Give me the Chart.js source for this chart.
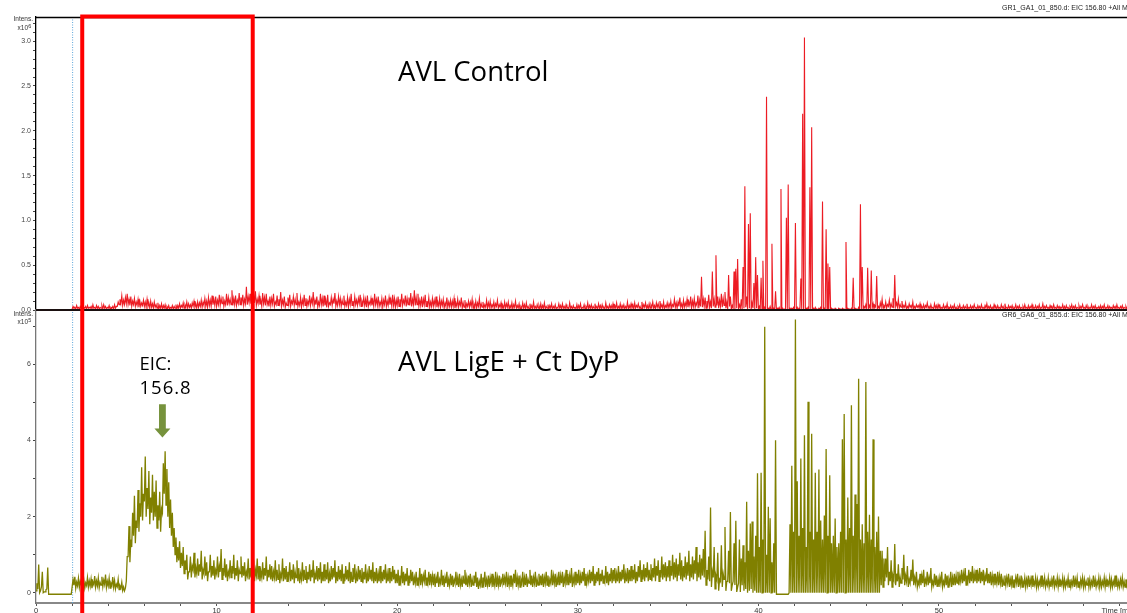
<!DOCTYPE html>
<html><head><meta charset="utf-8">
<script src="https://cdn.jsdelivr.net/npm/chart.js@4.4.0/dist/chart.umd.min.js"></script>
<style>html,body{margin:0;padding:0;background:#fff;overflow:hidden}canvas{display:block}</style>
</head><body>
<canvas id="c" width="1127" height="613"></canvas>
<script>
// sampling grid of the chromatograms (minutes); each 0.1-min bin holds a low and a high reading
const timeStart = 0;
const timeStep = 0.1;

// AVL Control, EIC 156.80 — bin maxima, intensity in units of 10^6
const controlMax = [
0,0,0,0,0,0,0,0,0,0,
0,0,0,0,0,0,0,0,0,0,
.04,.03,.05,.03,.04,.06,.03,.04,.05,.03,
.04,.06,.03,.05,.04,.03,.05,.06,.04,.03,
.05,.03,.04,.06,.04,.09,.12,.16,.11,.14,
.18,.12,.15,.10,.13,.09,.12,.10,.08,.11,
.09,.12,.08,.10,.07,.09,.06,.08,.05,.07,
.05,.06,.04,.05,.03,.05,.04,.06,.05,.07,
.05,.08,.06,.09,.07,.06,.08,.10,.07,.09,
.08,.11,.09,.13,.10,.14,.11,.16,.12,.15,
.11,.17,.13,.15,.10,.18,.14,.12,.22,.13,
.16,.11,.19,.14,.17,.12,.26,.15,.18,.13,
.17,.21,.12,.16,.11,.19,.14,.18,.10,.15,
.13,.18,.09,.16,.12,.20,.11,.15,.08,.14,
.17,.10,.15,.12,.19,.09,.14,.11,.17,.13,
.10,.16,.12,.20,.11,.15,.09,.18,.13,.16,
.11,.17,.08,.14,.12,.19,.10,.15,.13,.11,
.16,.09,.14,.12,.18,.10,.15,.11,.13,.17,
.10,.14,.12,.16,.09,.13,.11,.18,.12,.15,
.09,.13,.11,.16,.10,.14,.12,.17,.13,.11,
.15,.12,.18,.11,.16,.13,.14,.19,.12,.22,
.14,.18,.11,.15,.12,.17,.10,.14,.09,.13,
.11,.15,.09,.13,.10,.12,.08,.14,.09,.11,
.10,.13,.08,.12,.09,.14,.08,.11,.07,.10,
.09,.12,.07,.10,.08,.13,.07,.09,.06,.11,
.08,.10,.06,.09,.07,.11,.06,.08,.05,.09,
.07,.09,.05,.08,.06,.10,.05,.07,.04,.08,
.06,.08,.04,.07,.05,.09,.04,.06,.05,.07,
.05,.08,.04,.06,.05,.07,.04,.06,.03,.07,
.05,.07,.04,.06,.03,.08,.04,.05,.03,.06,
.05,.07,.03,.06,.04,.08,.05,.06,.04,.07,
.04,.07,.05,.06,.03,.08,.04,.06,.05,.07,
.05,.08,.04,.07,.05,.06,.04,.09,.05,.07,
.06,.08,.05,.07,.04,.09,.06,.08,.05,.07,
.06,.09,.05,.08,.07,.10,.06,.09,.05,.08,
.07,.10,.06,.12,.08,.09,.14,.07,.11,.08,
.12,.09,.15,.10,.13,.08,.16,.11,.37,.12,
.14,.10,.17,.09,.43,.12,.61,.15,.11,.18,
.13,.20,.09,.39,.15,.05,.43,.46,.57,.06,
.12,.48,1.38,.15,.96,1.08,.08,.30,.59,.39,
.04,.36,.55,.03,2.38,.02,.04,.74,.02,.21,
.02,.03,1.35,.02,.01,1.03,1.40,.02,.02,.03,
.97,.03,.02,.35,2.19,3.04,.02,.03,1.37,2.04,
.02,.03,.01,.02,.03,1.21,.02,.90,.52,.48,
.02,.01,.02,.01,.02,.01,.02,.01,.76,.02,
.01,.02,.36,.02,.01,.03,1.18,.48,.04,.06,
.47,.05,.44,.07,.05,.38,.04,.08,.12,.05,
.09,.06,.11,.07,.13,.39,.08,.12,.06,.10,
.05,.08,.04,.07,.05,.09,.04,.06,.05,.07,
.04,.06,.05,.08,.04,.06,.03,.07,.05,.06,
.05,.03,.06,.04,.07,.03,.05,.04,.06,.03,
.04,.06,.03,.05,.04,.07,.03,.05,.04,.06,
.03,.05,.04,.06,.03,.05,.07,.04,.05,.03,
.06,.04,.05,.03,.06,.04,.07,.03,.05,.04,
.05,.03,.06,.04,.05,.03,.04,.06,.03,.05,
.04,.06,.03,.05,.04,.06,.03,.07,.04,.05,
.03,.05,.04,.06,.03,.05,.04,.03,.06,.04,
.05,.03,.04,.06,.04,.05,.03,.05,.04,.06,
.03,.05,.04,.03,.06,.04,.05,.03,.04,.05,
.04,.06,.03,.05,.04,.03,.05,.04,.06,.03,
.04,.05,.03,.04,.05
];

// AVL Control — bin minima (10^6)
const controlMin = [
0,0,0,0,0,0,0,0,0,0,
0,0,0,0,0,0,0,0,0,0,
.01,.02,.01,.02,.01,.02,.01,.02,.01,.02,
.02,.01,.02,.01,.02,.01,.02,.01,.02,.01,
.02,.01,.02,.01,.02,.04,.06,.07,.05,.06,
.07,.06,.05,.04,.06,.04,.05,.03,.04,.05,
.04,.03,.04,.02,.03,.02,.03,.02,.01,.02,
.01,.02,.01,.02,.01,.02,.01,.02,.01,.02,
.02,.03,.02,.03,.02,.03,.02,.04,.03,.02,
.03,.04,.03,.05,.04,.03,.05,.04,.06,.05,
.04,.06,.05,.07,.04,.06,.05,.07,.06,.05,
.06,.05,.07,.06,.08,.05,.07,.06,.08,.07,
.06,.08,.05,.07,.06,.04,.07,.05,.06,.04,
.05,.07,.04,.06,.05,.07,.04,.06,.03,.05,
.06,.04,.07,.05,.06,.04,.05,.03,.06,.05,
.04,.06,.05,.07,.04,.06,.03,.05,.06,.04,
.05,.03,.04,.06,.05,.07,.04,.05,.06,.04,
.06,.04,.05,.03,.06,.05,.04,.06,.05,.07,
.04,.06,.05,.03,.04,.06,.05,.04,.06,.05,
.04,.05,.03,.06,.04,.05,.06,.04,.05,.03,
.05,.04,.06,.05,.07,.04,.06,.05,.04,.06,
.05,.06,.04,.05,.03,.06,.04,.05,.03,.04,
.04,.05,.03,.04,.03,.05,.02,.04,.03,.04,
.03,.04,.02,.04,.03,.05,.02,.03,.02,.04,
.03,.04,.02,.03,.02,.04,.02,.03,.02,.03,
.02,.03,.02,.03,.02,.04,.02,.03,.01,.02,
.02,.03,.01,.02,.01,.03,.02,.02,.01,.02,
.02,.01,.02,.01,.02,.01,.02,.01,.02,.01,
.01,.02,.01,.02,.01,.02,.01,.02,.01,.02,
.02,.01,.02,.01,.02,.01,.02,.01,.02,.01,
.01,.02,.01,.02,.01,.02,.01,.02,.01,.02,
.02,.01,.02,.01,.02,.01,.02,.01,.02,.01,
.01,.02,.01,.02,.01,.02,.01,.02,.01,.02,
.02,.01,.02,.03,.02,.01,.02,.03,.02,.01,
.02,.03,.02,.01,.03,.02,.03,.02,.01,.03,
.02,.03,.02,.04,.03,.02,.04,.03,.02,.03,
.04,.03,.05,.02,.04,.03,.05,.02,.04,.03,
.04,.02,.05,.03,.02,.04,.03,.05,.02,.04,
.03,.05,.02,.01,.04,.01,.02,.01,.02,.01,
.02,.01,.02,.03,.01,.02,.01,.02,.01,.02,
.01,0,.01,0,.01,0,.01,0,.01,0,
0,.01,0,.01,0,.01,0,.01,0,.01,
0,.01,0,.01,0,.01,0,.01,0,.01,
.01,0,.01,0,.01,0,.01,0,.01,0,
0,.01,0,.01,0,.01,0,.01,0,.01,
.01,0,.01,0,.01,0,.01,0,.01,.02,
.01,.02,.01,.02,.01,.03,.01,.02,.03,.02,
.03,.02,.04,.02,.03,.02,.04,.03,.02,.03,
.02,.03,.01,.02,.03,.02,.01,.02,.03,.02,
.01,.02,.01,.03,.02,.01,.02,.01,.02,.01,
.02,.01,.02,.01,.02,.01,.02,.01,.02,.01,
.01,.02,.01,.02,.01,.02,.01,.02,.01,.02,
.02,.01,.02,.01,.02,.01,.02,.01,.02,.01,
.01,.02,.01,.02,.01,.02,.01,.02,.01,.02,
.02,.01,.02,.01,.02,.01,.02,.01,.02,.01,
.01,.02,.01,.02,.01,.02,.01,.02,.01,.02,
.02,.01,.02,.01,.02,.01,.02,.01,.02,.01,
.01,.02,.01,.02,.01,.02,.01,.02,.01,.02,
.02,.01,.02,.01,.02,.01,.02,.01,.02,.01,
.01,.02,.01,.02,.01,.02,.01,.02,.01,.02,
.01,.02,.01,.02,.01
];

// AVL LigE + Ct DyP, EIC 156.80 — bin maxima, intensity in units of 10^5
const ligeMax = [
.25,.74,.05,.55,.02,.08,.66,-.04,-.04,-.04,
-.04,-.04,-.04,-.04,-.04,-.04,-.04,-.04,-.04,-.04,
.35,.42,.28,.38,.30,.45,.33,.26,.40,.31,
.36,.28,.44,.31,.39,.27,.42,.33,.48,.30,
.38,.25,.41,.32,.22,.35,.18,.27,.15,.12,
.95,1.75,1.40,2.10,2.55,1.90,2.70,2.35,3.30,2.60,
3.58,2.75,3.20,2.50,3.10,2.65,2.95,2.30,2.65,2.20,
3.40,3.72,3.25,2.90,2.45,2.10,1.70,1.45,1.20,1.35,
1.05,1.20,.85,1.00,.55,.95,.70,1.05,.65,.90,
.75,1.10,.60,.95,.80,.55,1.00,.70,.85,.60,
.95,.70,1.15,.65,.90,.75,.55,.85,.70,1.00,
.65,.85,.60,.95,.70,.80,.55,.90,.65,.75,
.85,.60,.90,.70,.55,.80,.65,.95,.60,.75,
.70,.55,.85,.60,.75,.50,.90,.65,.70,.55,
.80,.60,.75,.55,.85,.65,.50,.80,.60,.70,
.55,.75,.60,.85,.50,.70,.65,.80,.55,.75,
.60,.80,.50,.70,.65,.85,.55,.70,.60,.75,
.50,.70,.60,.80,.55,.65,.75,.50,.70,.60,
.65,.55,.75,.50,.70,.60,.80,.55,.65,.50,
.70,.55,.60,.75,.50,.65,.55,.70,.60,.50,
.60,.45,.70,.55,.50,.65,.45,.60,.55,.40,
.55,.40,.65,.50,.45,.60,.40,.55,.50,.45,
.50,.40,.55,.35,.60,.45,.40,.55,.35,.50,
.45,.35,.55,.40,.50,.35,.45,.60,.40,.45,
.50,.35,.45,.55,.40,.30,.50,.40,.55,.35,
.45,.40,.50,.35,.55,.40,.45,.35,.50,.40,
.55,.40,.45,.35,.50,.60,.40,.45,.35,.55,
.40,.50,.35,.60,.45,.40,.55,.35,.50,.45,
.50,.40,.55,.45,.35,.60,.45,.50,.40,.55,
.45,.55,.40,.60,.50,.45,.65,.40,.55,.50,
.60,.45,.55,.65,.50,.45,.60,.55,.70,.50,
.55,.65,.50,.60,.45,.70,.55,.50,.65,.60,
.65,.50,.70,.55,.60,.75,.50,.65,.60,.70,
.60,.75,.55,.70,.85,.60,.75,.65,.80,.60,
.75,.65,.90,.70,.85,.60,.95,.75,.80,.70,
.85,.70,1.00,.80,.90,.75,1.05,.85,.70,.95,
.80,1.10,.75,.95,.85,1.20,.80,1.00,.90,1.15,
1.63,.60,.95,2.24,.55,1.20,.45,1.05,.35,1.25,
.50,1.73,.30,1.10,2.12,.20,1.30,1.89,.15,1.40,
.90,1.25,.80,2.39,1.10,1.82,1.87,.95,1.50,3.14,
1.20,3.15,1.40,6.99,1.00,2.26,1.96,.80,1.30,4.01,
-.04,-.04,-.04,-.04,-.04,-.04,-.04,1.80,3.34,1.60,
7.18,2.93,1.50,3.53,1.70,4.14,1.20,5.02,1.60,4.18,
1.40,3.15,1.60,3.24,1.90,1.40,2.03,3.78,1.50,3.09,
1.30,1.50,1.95,1.20,1.30,1.60,4.03,4.70,1.40,2.50,
1.70,4.93,1.50,2.58,2.33,5.62,1.40,1.80,1.30,5.54,
1.60,2.05,1.40,4.03,1.20,1.60,2.00,1.10,1.10,.90,
.90,1.20,.55,.85,.45,1.28,.50,.75,.40,.65,
1.00,.45,.70,.35,.60,.87,.40,.55,.30,.50,
.45,.60,.35,.55,.40,.65,.30,.50,.45,.35,
.40,.55,.30,.50,.45,.35,.55,.40,.50,.45,
.55,.45,.60,.50,.65,.45,.60,.55,.70,.50,
.60,.50,.65,.55,.60,.45,.65,.50,.55,.45,
.50,.40,.55,.45,.50,.35,.45,.40,.50,.35,
.45,.35,.40,.50,.35,.45,.30,.40,.35,.45,
.35,.45,.30,.40,.35,.30,.45,.35,.40,.30,
.40,.30,.35,.45,.30,.40,.35,.30,.40,.35,
.30,.40,.35,.30,.45,.35,.40,.30,.35,.40,
.35,.30,.40,.35,.30,.45,.35,.30,.40,.35,
.30,.40,.35,.30,.40,.35,.30,.45,.35,.30,
.35,.40,.30,.35,.40
];

// AVL LigE + Ct DyP — bin minima (10^5)
const ligeMin = [
.05,.10,0,.15,0,.02,.10,-.04,-.04,-.04,
-.04,-.04,-.04,-.04,-.04,-.04,-.04,-.04,-.04,-.04,
.15,.20,.12,.18,.14,.22,.16,.12,.19,.15,
.17,.12,.21,.15,.18,.13,.20,.16,.22,.14,
.18,.12,.19,.15,.10,.16,.08,.12,.06,.05,
.30,.95,.80,1.20,1.50,1.30,1.70,1.60,2.00,1.90,
2.40,2.00,2.20,1.80,2.10,1.90,2.00,1.70,1.90,1.60,
2.10,2.60,2.30,2.00,1.70,1.50,1.20,1.00,.80,.85,
.65,.70,.50,.60,.35,.55,.40,.60,.40,.50,
.45,.55,.35,.50,.45,.30,.55,.40,.45,.35,
.50,.40,.55,.35,.45,.40,.30,.45,.40,.50,
.35,.45,.30,.50,.40,.45,.30,.45,.35,.40,
.40,.30,.45,.35,.30,.40,.35,.45,.30,.40,
.35,.30,.40,.30,.35,.25,.40,.30,.35,.30,
.40,.30,.35,.25,.40,.30,.25,.35,.30,.35,
.25,.35,.30,.40,.25,.35,.30,.35,.25,.30,
.30,.35,.25,.30,.35,.40,.25,.30,.35,.30,
.25,.30,.35,.30,.25,.30,.35,.25,.30,.35,
.30,.25,.35,.25,.30,.35,.30,.25,.30,.25,
.30,.25,.30,.35,.25,.30,.25,.30,.35,.25,
.25,.20,.30,.25,.20,.30,.20,.25,.30,.20,
.25,.20,.25,.20,.25,.30,.20,.25,.20,.25,
.20,.15,.25,.15,.25,.20,.15,.25,.15,.20,
.20,.15,.25,.20,.15,.20,.15,.25,.20,.15,
.25,.15,.20,.25,.15,.10,.20,.15,.25,.15,
.20,.15,.25,.15,.20,.15,.20,.15,.25,.20,
.25,.15,.20,.15,.20,.25,.15,.20,.15,.25,
.15,.20,.15,.25,.20,.15,.25,.15,.20,.20,
.20,.15,.25,.20,.15,.25,.20,.25,.15,.20,
.20,.25,.15,.25,.20,.20,.25,.15,.25,.20,
.25,.20,.25,.30,.20,.25,.30,.25,.30,.20,
.25,.30,.20,.30,.25,.30,.25,.20,.30,.25,
.30,.25,.30,.25,.30,.35,.25,.30,.25,.30,
.30,.35,.25,.30,.40,.30,.35,.30,.40,.30,
.35,.30,.40,.30,.45,.30,.40,.35,.40,.30,
.40,.30,.45,.35,.40,.30,.45,.35,.30,.40,
.35,.45,.30,.40,.35,.50,.30,.40,.35,.45,
.40,.20,.35,.30,.15,.40,.10,.35,.05,.30,
.15,.35,.05,.30,.25,.05,.30,.20,.02,.25,
.02,.20,.05,.10,0,.05,.10,0,.05,0,
0,0,0,0,0,0,0,0,0,0,
-.04,-.04,-.04,-.04,-.04,-.04,-.04,0,0,0,
0,0,0,0,0,0,0,0,0,0,
0,0,0,0,0,0,0,0,0,0,
0,0,0,0,0,0,0,0,0,0,
0,0,0,0,0,0,0,0,0,0,
0,0,0,0,0,0,0,0,.20,.15,
.30,.40,.20,.30,.15,.35,.20,.30,.15,.25,
.35,.20,.30,.15,.25,.30,.20,.25,.15,.20,
.20,.25,.15,.25,.20,.25,.15,.20,.20,.15,
.15,.25,.15,.20,.20,.15,.25,.15,.20,.20,
.25,.20,.30,.25,.30,.20,.30,.25,.30,.25,
.30,.25,.30,.25,.30,.20,.30,.25,.25,.20,
.25,.20,.25,.20,.25,.15,.20,.20,.25,.15,
.20,.15,.20,.25,.15,.20,.15,.20,.15,.20,
.15,.20,.15,.20,.15,.15,.20,.15,.20,.15,
.20,.15,.15,.20,.15,.20,.15,.15,.20,.15,
.15,.20,.15,.15,.20,.15,.20,.15,.15,.20,
.15,.15,.20,.15,.15,.20,.15,.15,.20,.15,
.15,.20,.15,.15,.20,.15,.15,.20,.15,.15,
.15,.20,.15,.15,.20
];

// tick labels
const xTickLabels = ['0','10','20','30','40','50'];
const topTickLabels = ['0.0','0.5','1.0','1.5','2.0','2.5','3.0'];
const bottomTickLabels = ['0','2','4','6'];

// annotations
const topPanelTitle = 'AVL Control';
const bottomPanelTitle = 'AVL LigE + Ct DyP';
const topFileLabel = 'GR1_GA1_01_850.d: EIC 156.80 +All MS';
const bottomFileLabel = 'GR6_GA6_01_855.d: EIC 156.80 +All MS';
const eicLines = ['EIC:', '156.8'];
const highlightWindow = [2.56, 12.0];   // minutes
const markerTime = 2.0;                   // minutes
const arrowAt = {t: 7.0, from: 4.95, to: 4.08}; // min, 10^5

// each bin contributes its low reading then its high reading
const toPoints = (lo, hi) => {
  const pts = [];
  lo.forEach((v, i) => {
    const t = timeStart + i * timeStep;
    pts.push({x: t, y: v});
    pts.push({x: t + timeStep / 2, y: hi[i]});
  });
  return pts;
};

const near = (v, list) => list.some(s => Math.abs(parseFloat(s) - v) < 1e-6);

const tickFont = {family: '"Liberation Sans", Arial, sans-serif', size: 7};

const overlay = {
  id: 'overlay',
  beforeDatasetsDraw(chart) {
    const {ctx, chartArea: a, scales} = chart;
    const x = scales.x.getPixelForValue(markerTime);
    ctx.save();
    ctx.strokeStyle = '#5aa6dc';
    ctx.lineWidth = 1;
    ctx.setLineDash([1, 1.5]);
    ctx.beginPath();
    ctx.moveTo(x + 0.5, a.top);
    ctx.lineTo(x + 0.5, a.bottom);
    ctx.stroke();
    ctx.restore();
  },
  afterDatasetsDraw(chart) {
    const {ctx, chartArea: a, scales} = chart;
    const yTop = scales.yTop, yBot = scales.yBot, xs = scales.x;
    ctx.save();
    ctx.strokeStyle = '#000';
    ctx.lineWidth = 1.3;
    ctx.beginPath();
    ctx.moveTo(a.left, a.top + 0.5); ctx.lineTo(a.right, a.top + 0.5);
    ctx.stroke();
    const y0 = yTop.getPixelForValue(0);
    ctx.strokeStyle = '#1a1010';
    ctx.lineWidth = 2;
    ctx.beginPath();
    ctx.moveTo(a.left, y0); ctx.lineTo(a.right, y0);
    ctx.stroke();

    ctx.fillStyle = '#333';
    ctx.font = '6.5px "Liberation Sans", Arial, sans-serif';
    ctx.textBaseline = 'middle';
    ctx.textAlign = 'right';
    ctx.fillText('Intens.', 33, 19.5);
    ctx.fillText('x10', 28, 28.5);
    ctx.fillText('Intens.', 33, 314);
    ctx.fillText('x10', 28, 322.5);
    ctx.textAlign = 'left';
    ctx.font = '5.5px "Liberation Sans", Arial, sans-serif';
    ctx.fillText('6', 28.3, 26);
    ctx.fillText('5', 28.3, 320);
    ctx.font = '7px "Liberation Sans", Arial, sans-serif';
    ctx.fillStyle = '#222';
    ctx.fillText(topFileLabel, 1002, 8.5);
    ctx.fillText(bottomFileLabel, 1002, 315);
    ctx.fillStyle = '#333';
    ctx.font = '7.5px "Liberation Sans", Arial, sans-serif';
    ctx.fillText('Time [min]', 1101.5, 611);

    ctx.fillStyle = '#000';
    ctx.textBaseline = 'alphabetic';
    ctx.font = '27.5px "Open Sans", sans-serif';
    ctx.fillText(topPanelTitle, 398, 81);
    ctx.fillText(bottomPanelTitle, 398, 371);
    ctx.font = '18.5px "Open Sans", sans-serif';
    ctx.fillText(eicLines[0], 139.5, 370);
    ctx.letterSpacing = '1px';
    ctx.fillText(eicLines[1], 139.5, 394);
    ctx.letterSpacing = '0px';

    const ax = xs.getPixelForValue(arrowAt.t);
    const ay1 = yBot.getPixelForValue(arrowAt.from);
    const ay2 = yBot.getPixelForValue(arrowAt.to);
    const headH = 9;
    ctx.fillStyle = '#76923c';
    ctx.beginPath();
    ctx.moveTo(ax - 3.4, ay1);
    ctx.lineTo(ax + 3.4, ay1);
    ctx.lineTo(ax + 3.4, ay2 - headH);
    ctx.lineTo(ax + 8, ay2 - headH);
    ctx.lineTo(ax, ay2);
    ctx.lineTo(ax - 8, ay2 - headH);
    ctx.lineTo(ax - 3.4, ay2 - headH);
    ctx.closePath();
    ctx.fill();

    const rx1 = xs.getPixelForValue(highlightWindow[0]);
    const rx2 = xs.getPixelForValue(highlightWindow[1]);
    ctx.strokeStyle = '#ff0000';
    ctx.lineWidth = 4;
    ctx.setLineDash([]);
    ctx.strokeRect(rx1, a.top - 0.5, rx2 - rx1, chart.height + 10);
    ctx.restore();
  }
};

new Chart(document.getElementById('c'), {
  type: 'line',
  data: {
    datasets: [
      {data: toPoints(controlMin, controlMax), yAxisID: 'yTop', borderColor: '#ec1c24', borderWidth: 1.1,
       pointRadius: 0, tension: 0, fill: false},
      {data: toPoints(ligeMin, ligeMax), yAxisID: 'yBot', borderColor: '#808000', borderWidth: 1.3,
       pointRadius: 0, tension: 0, fill: false}
    ]
  },
  options: {
    responsive: false,
    animation: false,
    events: [],
    layout: {padding: {top: 17, left: 0, right: 0, bottom: 0}},
    plugins: {legend: {display: false}, tooltip: {enabled: false}},
    scales: {
      x: {
        type: 'linear', position: 'bottom', min: 0, max: 60.41,
        afterFit: s => { s.height = 10; },
        border: {display: true, color: '#888', width: 2},
        grid: {drawOnChartArea: false, drawTicks: true, tickLength: 3, tickColor: '#555'},
        ticks: {stepSize: 2, autoSkip: false, maxRotation: 0, padding: 0, color: '#333',
          font: {family: tickFont.family, size: 7.5}, includeBounds: false,
          callback: v => near(v, xTickLabels) ? String(Math.round(v)) : ''}
      },
      yTop: {
        type: 'linear', position: 'left', stack: 'panels', stackWeight: 1, weight: 1,
        min: 0, max: 3.27,
        afterFit: s => { s.width = 36; },
        border: {display: true, color: '#000', width: 1.3},
        grid: {drawOnChartArea: false, drawTicks: true, tickLength: 3, tickColor: '#444'},
        ticks: {stepSize: 0.1, autoSkip: false, padding: 2, color: '#444', font: tickFont, includeBounds: false,
          callback: v => near(v, topTickLabels) ? v.toFixed(1) : ''}
      },
      yBot: {
        type: 'linear', position: 'left', stack: 'panels', stackWeight: 1, weight: 0,
        min: -0.27, max: 7.43,
        afterFit: s => { s.width = 36; },
        border: {display: true, color: '#777', width: 1.3},
        grid: {drawOnChartArea: false, drawTicks: true, tickLength: 3, tickColor: '#444'},
        ticks: {stepSize: 1, autoSkip: false, padding: 2, color: '#444', font: tickFont, includeBounds: false,
          callback: v => near(v, bottomTickLabels) ? String(Math.round(v)) : ''}
      }
    }
  },
  plugins: [overlay]
});
</script>
</body></html>
